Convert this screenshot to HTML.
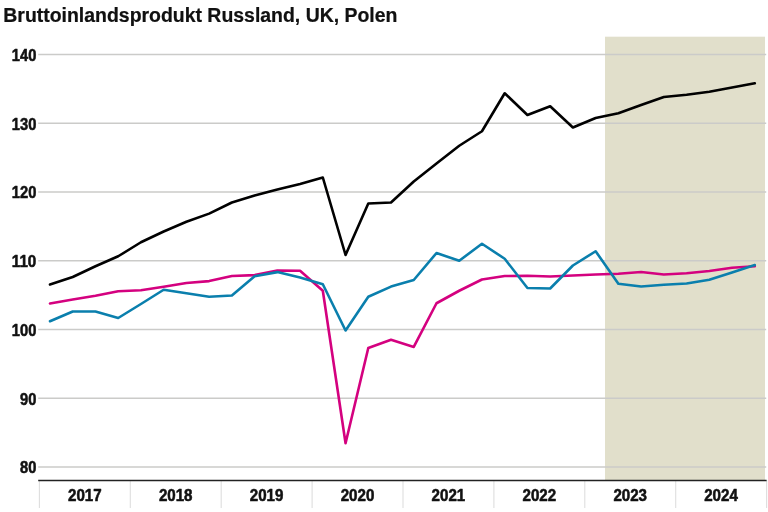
<!DOCTYPE html><html><head><meta charset="utf-8"><style>html,body{margin:0;padding:0;background:#fff;width:768px;height:512px;overflow:hidden}svg{display:block;will-change:transform;opacity:0.999}text{font-family:"Liberation Sans",sans-serif;font-weight:bold;fill:#111}</style></head><body>
<svg width="768" height="512" viewBox="0 0 768 512">
<rect width="768" height="512" fill="#fff"/>
<text x="3.3" y="21.6" font-size="19.45" fill="#000" stroke="#000" stroke-width="0.2">Bruttoinlandsprodukt Russland, UK, Polen</text>
<rect x="605" y="36.7" width="160" height="443.5" fill="#e1dfcb"/>
<line x1="38.2" x2="766.2" y1="54.5" y2="54.5" stroke="#cbcbc9" stroke-width="1.5"/>
<line x1="38.2" x2="766.2" y1="123.2" y2="123.2" stroke="#cbcbc9" stroke-width="1.5"/>
<line x1="38.2" x2="766.2" y1="191.9" y2="191.9" stroke="#cbcbc9" stroke-width="1.5"/>
<line x1="38.2" x2="766.2" y1="260.7" y2="260.7" stroke="#cbcbc9" stroke-width="1.5"/>
<line x1="38.2" x2="766.2" y1="329.5" y2="329.5" stroke="#cbcbc9" stroke-width="1.5"/>
<line x1="38.2" x2="766.2" y1="398.2" y2="398.2" stroke="#cbcbc9" stroke-width="1.5"/>
<line x1="38.2" x2="766.2" y1="466.9" y2="466.9" stroke="#cbcbc9" stroke-width="1.5"/>
<text x="11.799999999999997" y="60.8" font-size="16" textLength="24.5" lengthAdjust="spacingAndGlyphs" stroke="#111" stroke-width="0.55" stroke-linejoin="round">140</text>
<text x="11.799999999999997" y="129.5" font-size="16" textLength="24.5" lengthAdjust="spacingAndGlyphs" stroke="#111" stroke-width="0.55" stroke-linejoin="round">130</text>
<text x="11.799999999999997" y="198.20000000000002" font-size="16" textLength="24.5" lengthAdjust="spacingAndGlyphs" stroke="#111" stroke-width="0.55" stroke-linejoin="round">120</text>
<text x="11.799999999999997" y="267.0" font-size="16" textLength="24.5" lengthAdjust="spacingAndGlyphs" stroke="#111" stroke-width="0.55" stroke-linejoin="round">110</text>
<text x="11.799999999999997" y="335.8" font-size="16" textLength="24.5" lengthAdjust="spacingAndGlyphs" stroke="#111" stroke-width="0.55" stroke-linejoin="round">100</text>
<text x="19.999999999999996" y="404.5" font-size="16" textLength="16.3" lengthAdjust="spacingAndGlyphs" stroke="#111" stroke-width="0.55" stroke-linejoin="round">90</text>
<text x="19.999999999999996" y="473.2" font-size="16" textLength="16.3" lengthAdjust="spacingAndGlyphs" stroke="#111" stroke-width="0.55" stroke-linejoin="round">80</text>
<line x1="39.4" x2="39.4" y1="480" y2="508" stroke="#dedede" stroke-width="1.1"/>
<line x1="130.3" x2="130.3" y1="480" y2="508" stroke="#dedede" stroke-width="1.1"/>
<line x1="221.2" x2="221.2" y1="480" y2="508" stroke="#dedede" stroke-width="1.1"/>
<line x1="312.1" x2="312.1" y1="480" y2="508" stroke="#dedede" stroke-width="1.1"/>
<line x1="403.0" x2="403.0" y1="480" y2="508" stroke="#dedede" stroke-width="1.1"/>
<line x1="493.9" x2="493.9" y1="480" y2="508" stroke="#dedede" stroke-width="1.1"/>
<line x1="584.8" x2="584.8" y1="480" y2="508" stroke="#dedede" stroke-width="1.1"/>
<line x1="675.7" x2="675.7" y1="480" y2="508" stroke="#dedede" stroke-width="1.1"/>
<line x1="766.6" x2="766.6" y1="480" y2="508" stroke="#dedede" stroke-width="1.1"/>
<line x1="38.2" x2="766.6" y1="480.5" y2="480.5" stroke="#222" stroke-width="1.4"/>
<text x="68.0" y="500.8" font-size="16" textLength="33.6" lengthAdjust="spacingAndGlyphs" stroke="#111" stroke-width="0.55" stroke-linejoin="round">2017</text>
<text x="158.9" y="500.8" font-size="16" textLength="33.6" lengthAdjust="spacingAndGlyphs" stroke="#111" stroke-width="0.55" stroke-linejoin="round">2018</text>
<text x="249.8" y="500.8" font-size="16" textLength="33.6" lengthAdjust="spacingAndGlyphs" stroke="#111" stroke-width="0.55" stroke-linejoin="round">2019</text>
<text x="340.7" y="500.8" font-size="16" textLength="33.6" lengthAdjust="spacingAndGlyphs" stroke="#111" stroke-width="0.55" stroke-linejoin="round">2020</text>
<text x="431.6" y="500.8" font-size="16" textLength="33.6" lengthAdjust="spacingAndGlyphs" stroke="#111" stroke-width="0.55" stroke-linejoin="round">2021</text>
<text x="522.5" y="500.8" font-size="16" textLength="33.6" lengthAdjust="spacingAndGlyphs" stroke="#111" stroke-width="0.55" stroke-linejoin="round">2022</text>
<text x="613.4" y="500.8" font-size="16" textLength="33.6" lengthAdjust="spacingAndGlyphs" stroke="#111" stroke-width="0.55" stroke-linejoin="round">2023</text>
<text x="704.2" y="500.8" font-size="16" textLength="33.6" lengthAdjust="spacingAndGlyphs" stroke="#111" stroke-width="0.55" stroke-linejoin="round">2024</text>
<polyline points="50.00,303.50 72.73,299.50 95.47,295.75 118.20,291.25 140.94,290.25 163.68,286.75 186.41,283.00 209.14,281.10 231.88,276.00 254.62,275.10 277.35,270.60 300.08,270.80 322.82,290.75 345.56,443.30 368.29,348.00 391.02,339.75 413.76,346.90 436.50,303.25 459.23,290.75 481.96,279.50 504.70,276.00 527.43,275.75 550.17,276.50 572.90,275.50 595.64,274.50 618.38,273.75 641.11,272.00 663.85,274.50 686.58,273.25 709.31,271.00 732.05,267.75 754.78,266.25" fill="none" stroke="#d4007f" stroke-width="2.6" stroke-linejoin="round" stroke-linecap="round"/>
<polyline points="50.00,321.25 72.73,311.50 95.47,311.50 118.20,318.00 140.94,304.00 163.68,289.75 186.41,293.25 209.14,296.75 231.88,295.50 254.62,276.25 277.35,272.10 300.08,277.50 322.82,284.25 345.56,330.50 368.29,296.75 391.02,286.60 413.76,280.00 436.50,253.00 459.23,260.75 481.96,243.75 504.70,258.75 527.43,288.00 550.17,288.50 572.90,265.50 595.64,251.25 618.38,283.75 641.11,286.50 663.85,284.75 686.58,283.50 709.31,279.75 732.05,272.50 754.78,265.00" fill="none" stroke="#0a7fad" stroke-width="2.6" stroke-linejoin="round" stroke-linecap="round"/>
<polyline points="50.00,284.50 72.73,277.00 95.47,266.25 118.20,256.25 140.94,242.25 163.68,231.50 186.41,221.75 209.14,213.60 231.88,202.50 254.62,195.50 277.35,189.50 300.08,184.00 322.82,177.50 345.56,255.00 368.29,203.50 391.02,202.50 413.76,181.50 436.50,163.50 459.23,145.75 481.96,131.25 504.70,93.25 527.43,115.00 550.17,106.25 572.90,127.50 595.64,118.00 618.38,113.25 641.11,105.00 663.85,97.00 686.58,94.75 709.31,91.75 732.05,87.50 754.78,83.25" fill="none" stroke="#000" stroke-width="2.6" stroke-linejoin="round" stroke-linecap="round"/>
</svg></body></html>
